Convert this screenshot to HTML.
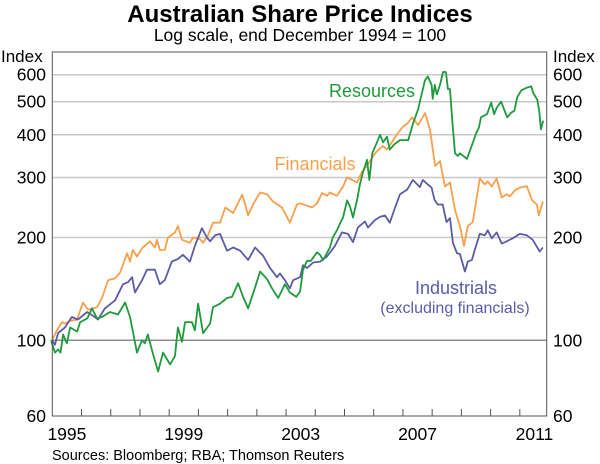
<!DOCTYPE html>
<html><head><meta charset="utf-8"><style>
body{margin:0;background:#fff;}
svg{display:block;font-family:"Liberation Sans",Arial,sans-serif;}
</style></head><body>
<svg id="chart" width="600" height="464" viewBox="0 0 600 464" xmlns="http://www.w3.org/2000/svg">
<text x="300" y="22" text-anchor="middle" font-size="24" font-weight="bold" fill="#000">Australian Share Price Indices</text>
<text x="300" y="41" text-anchor="middle" font-size="17.5" fill="#000">Log scale, end December 1994 = 100</text>
<text x="1" y="62" font-size="17" fill="#000">Index</text>
<text x="553" y="62" font-size="17" fill="#000">Index</text>
<g id="grid"></g>
<g id="series"></g>
<rect x="52.3" y="52" width="494.4" height="364" fill="none" stroke="#555" stroke-width="1"/>
<g id="axes"></g>
<text x="372" y="97" text-anchor="middle" font-size="18" fill="#1f9a3c">Resources</text>
<text x="315" y="170" text-anchor="middle" font-size="18" fill="#f8a04c">Financials</text>
<text x="456" y="294" text-anchor="middle" font-size="18" fill="#5b5ba8">Industrials</text>
<text x="455" y="313" text-anchor="middle" font-size="16" fill="#5b5ba8">(excluding financials)</text>
<text x="52" y="460" font-size="14.5" fill="#000">Sources: Bloomberg; RBA; Thomson Reuters</text>
</svg>
<script>
const yTicks=[60,100,200,300,400,500,600];
const xTickYears=[1995,1996,1997,1998,1999,2000,2001,2002,2003,2004,2005,2006,2007,2008,2009,2010,2011];
const xLabelYears=[1995,1999,2003,2007,2011];
const resDates=[1994.96,1995.09,1995.2,1995.28,1995.37,1995.5,1995.61,1995.85,1995.95,1996.2,1996.36,1996.53,1996.7,1996.97,1997.25,1997.49,1997.66,1997.9,1998.07,1998.17,1998.27,1998.45,1998.62,1998.79,1999.03,1999.2,1999.3,1999.44,1999.54,1999.78,1999.88,1999.99,2000.16,2000.4,2000.5,2000.74,2000.98,2001.15,2001.36,2001.53,2001.7,2001.94,2002.11,2002.35,2002.52,2002.73,2002.96,2003.13,2003.35,2003.48,2003.58,2003.72,2003.85,2004.06,2004.16,2004.27,2004.5,2004.6,2004.74,2004.85,2004.95,2005.09,2005.19,2005.29,2005.43,2005.53,2005.63,2005.77,2005.85,2005.95,2006.1,2006.22,2006.32,2006.45,2006.55,2006.7,2006.9,2007.18,2007.35,2007.52,2007.58,2007.75,2007.85,2007.98,2008.02,2008.09,2008.16,2008.27,2008.37,2008.47,2008.54,2008.61,2008.68,2008.78,2008.88,2008.95,2009.12,2009.19,2009.37,2009.51,2009.6,2009.67,2009.88,2010.02,2010.12,2010.22,2010.36,2010.47,2010.57,2010.71,2010.81,2010.91,2011.05,2011.25,2011.39,2011.46,2011.6,2011.67,2011.72,2011.8];
const resValues=[100,92,94,92,104,98,109,106,113,116,124,116,117,121,119,129,117,92,100,98,104,91,81,92,85,90,109,99,113,113,107,128,105,112,125,128,133,134,147,134,124,143,159,151,142,133,146,138,134,139,161,171,171,181,178,172,187,200,210,220,229,257,246,229,258,287,310,338,295,353,378,400,380,395,362,375,386,386,433,475,500,577,593,560,510,560,525,560,611,611,545,545,450,353,347,353,344,340,375,405,420,450,460,497,460,482,500,473,450,465,470,515,540,550,555,530,506,465,415,440];
const finDates=[1994.99,1995.16,1995.33,1995.43,1995.61,1995.85,1996.05,1996.22,1996.53,1996.7,1996.91,1997.15,1997.32,1997.56,1997.66,1997.76,1997.9,1998.07,1998.34,1998.51,1998.58,1998.68,1998.85,1998.96,1999.2,1999.3,1999.44,1999.71,1999.82,2000.05,2000.16,2000.33,2000.5,2000.74,2000.92,2001.19,2001.5,2001.6,2001.7,2001.87,2002.11,2002.35,2002.55,2002.86,2003.13,2003.37,2003.48,2003.89,2004.06,2004.23,2004.4,2004.5,2004.74,2004.95,2005.09,2005.43,2005.6,2005.77,2005.94,2006.11,2006.32,2006.45,2006.62,2006.79,2006.97,2007.17,2007.31,2007.52,2007.76,2007.93,2008.1,2008.27,2008.44,2008.61,2008.78,2008.95,2009.09,2009.22,2009.39,2009.63,2009.8,2009.9,2010.04,2010.21,2010.38,2010.55,2010.66,2010.83,2011.0,2011.24,2011.41,2011.58,2011.65,2011.79];
const finValues=[100,107,113,112,114,115,129,123,125,133,150,152,158,180,170,184,176,186,195,187,197,184,184,200,207,216,197,193,200,198,193,203,221,221,245,236,267,250,232,250,271,268,255,245,221,250,252,245,252,270,265,271,265,282,300,290,312,324,343,358,371,362,380,400,420,433,450,427,463,413,324,335,282,290,241,216,189,216,222,298,286,292,282,298,262,268,264,275,280,283,258,250,232,255];
const indDates=[1994.99,1995.09,1995.2,1995.43,1995.67,1995.88,1996.19,1996.39,1996.56,1996.8,1997.15,1997.42,1997.59,1997.73,1997.83,1998.07,1998.24,1998.51,1998.68,1998.85,1999.09,1999.3,1999.47,1999.71,1999.88,2000.12,2000.29,2000.4,2000.57,2000.74,2000.98,2001.19,2001.43,2001.7,2001.94,2002.21,2002.45,2002.69,2002.79,2002.96,2003.13,2003.24,2003.48,2003.58,2003.72,2003.93,2004.16,2004.4,2004.67,2004.91,2005.12,2005.29,2005.46,2005.7,2005.8,2006.04,2006.22,2006.39,2006.55,2006.73,2006.9,2007.14,2007.34,2007.58,2007.68,2007.85,2007.98,2008.08,2008.19,2008.36,2008.49,2008.61,2008.71,2008.85,2008.95,2009.12,2009.22,2009.36,2009.46,2009.63,2009.8,2009.9,2010.04,2010.21,2010.38,2010.55,2010.76,2011.0,2011.24,2011.44,2011.68,2011.79];
const indValues=[100,97,105,109,117,115,121,118,115,124,131,146,148,153,138,150,161,161,146,150,170,173,178,170,189,213,200,195,203,205,183,187,183,172,187,177,163,153,157,150,142,150,153,166,163,169,170,176,189,207,205,194,214,223,214,225,230,232,221,245,268,276,295,281,295,286,280,258,250,250,222,228,193,180,179,159,170,172,184,205,203,210,199,207,192,195,199,205,203,197,182,187];

const NS="http://www.w3.org/2000/svg";
const L=52.3,R=546.7,T=52,B=416,DEC=341.3;
function xScale(t){return L+(t-1995)*29.22;}
function yScale(v){return B-Math.log10(v/60)*DEC;}
const grid=document.getElementById('grid'),axes=document.getElementById('axes'),ser=document.getElementById('series');
yTicks.forEach(v=>{
  const y=yScale(v);
  if(v!==60){
    const ln=document.createElementNS(NS,'line');
    
    
    ln.setAttribute('x1',L);ln.setAttribute('x2',R);ln.setAttribute('y1',y);ln.setAttribute('y2',y);
    ln.setAttribute('stroke',v===100?'#777':'#c8c8c8');ln.setAttribute('stroke-width',v===100?1.2:1.5);
    grid.appendChild(ln);
  }
  [['left',46,'end'],['right',553,'start']].forEach(s=>{
    const tx=document.createElementNS(NS,'text');
    
    
    tx.setAttribute('x',s[1]);tx.setAttribute('y',y+6);tx.setAttribute('text-anchor',s[2]);
    tx.setAttribute('font-size','17.5');tx.textContent=v;axes.appendChild(tx);
  });
});
xTickYears.forEach(yr=>{
  const x=xScale(yr);
  if(x<=L+1)return;
  const ln=document.createElementNS(NS,'line');
  
  
  ln.setAttribute('x1',x);ln.setAttribute('x2',x);ln.setAttribute('y1',B);ln.setAttribute('y2',B-7);
  ln.setAttribute('stroke','#555');axes.appendChild(ln);
});
xLabelYears.forEach(yr=>{
  const tx=document.createElementNS(NS,'text');
  
  
  tx.setAttribute('x',xScale(yr+0.5));tx.setAttribute('y',440);tx.setAttribute('text-anchor','middle');
  tx.setAttribute('font-size','17.5');tx.textContent=yr;axes.appendChild(tx);
});
function drawLine(dates,vals,color,name){
  const p=document.createElementNS(NS,'path');
  
  
  p.setAttribute('d',dates.map((d,i)=>(i?'L':'M')+xScale(d).toFixed(1)+','+yScale(vals[i]).toFixed(1)).join(''));
  p.setAttribute('fill','none');p.setAttribute('stroke',color);p.setAttribute('stroke-width','1.8');
  p.setAttribute('stroke-linejoin','round');
  ser.appendChild(p);
}
drawLine(finDates,finValues,'#f8a04c','financials-line');
drawLine(indDates,indValues,'#5b5ba8','industrials-line');
drawLine(resDates,resValues,'#1f9a3c','resources-line');
</script>
</body></html>
